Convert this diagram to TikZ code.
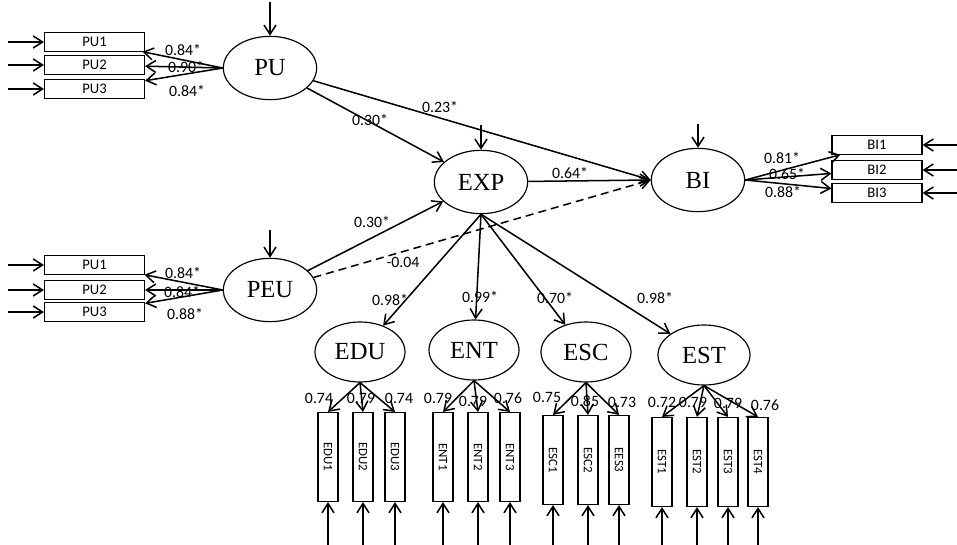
\documentclass[tikz,border=0pt]{standalone}
\usepackage{fontspec}
\setmainfont{Liberation Serif}
\newfontfamily\carlito{Carlito}
\usetikzlibrary{shapes.geometric,arrows.meta}

\tikzset{
  latent/.style={draw, ellipse, line width=1pt, minimum width=28mm, minimum height=19mm,
    inner sep=0pt, font=\fontsize{21}{23}\selectfont},
  obsh/.style={draw, rectangle, line width=1pt, minimum width=30mm, minimum height=5.5mm,
    inner sep=0pt, font=\carlito\fontsize{12.5}{13}\selectfont},
  obsv/.style={draw, rectangle, line width=1pt, minimum width=26.7mm, minimum height=6mm,
    inner sep=0pt, rotate=-90, font=\carlito\fontsize{11}{12}\selectfont},
  coef/.style={font=\carlito\fontsize{13.5}{14}\selectfont, inner sep=1pt},
  link/.style={->, line width=1.3pt},
}

\begin{document}
\begin{tikzpicture}[x=0.3mm, y=-0.3mm, >={Straight Barb[length=2.8mm,width=3.6mm]}]
        \useasboundingbox (0,0) rectangle (957,545);
        \coordinate (lft) at (8,0);
        \coordinate (rgt) at (957,0);
        \coordinate (bot) at (0,545);

        % latent variables
        \node[latent] (PU) at (270,68) {PU};
        \node[latent] (PEU) at (270,290) {PEU};
        \node[latent] (EXP) at (481,182) {EXP};
        \node[latent] (BI) at (698,180) {BI};
        \node[latent, minimum width=27mm, minimum height=18mm] (EDU) at (360,352) {EDU};
        \node[latent, minimum width=27mm, minimum height=18mm] (ENT) at (474,350) {ENT};
        \node[latent, minimum width=27mm, minimum height=18mm] (ESC) at (586,352) {ESC};
        \node[latent, minimum width=27.6mm, minimum height=18mm] (EST) at (704,355) {EST};

        % errors of the latents
        \coordinate (ePU) at (270,2);
        \coordinate (ePEU) at (270,230);
        \coordinate (eEXP) at (481,125);
        \coordinate (eBI) at (698,124);
        \draw[link] (ePU) -- (PU);
        \draw[link] (ePEU) -- (PEU);
        \draw[link] (eEXP) -- (EXP);
        \draw[link] (eBI) -- (BI);

        % PU items
        \node[obsh] (pu1) at (94.5,42) {PU1};
        \node[obsh] (pu2) at (94.5,65) {PU2};
        \node[obsh] (pu3) at (94.5,89) {PU3};
        \draw[link] (lft |- pu1) -- (pu1);
        \draw[link] (lft |- pu2) -- (pu2);
        \draw[link] (lft |- pu3) -- (pu3);
        \draw[link] (PU.west) -- (pu1);
        \draw[link] (PU.west) -- (pu2);
        \draw[link] (PU.west) -- (pu3);
        \node[coef] (lpu1) at (183,50) {0.84*};
        \node[coef] (lpu2) at (186,67) {0.90*};
        \node[coef] (lpu3) at (187,91) {0.84*};

        % PEU items
        \node[obsh] (peu1) at (94.5,265) {PU1};
        \node[obsh] (peu2) at (94.5,290) {PU2};
        \node[obsh] (peu3) at (94.5,312) {PU3};
        \draw[link] (lft |- peu1) -- (peu1);
        \draw[link] (lft |- peu2) -- (peu2);
        \draw[link] (lft |- peu3) -- (peu3);
        \draw[link] (PEU.west) -- (peu1);
        \draw[link] (PEU.west) -- (peu2);
        \draw[link] (PEU.west) -- (peu3);
        \node[coef] (lpeu1) at (183,273) {0.84*};
        \node[coef] (lpeu2) at (182,292) {0.84*};
        \node[coef] (lpeu3) at (185,314) {0.88*};

        % BI items
        \node[obsh, minimum width=27mm] (bi1) at (877,145) {BI1};
        \node[obsh, minimum width=27mm] (bi2) at (877,170) {BI2};
        \node[obsh, minimum width=27mm] (bi3) at (877,193) {BI3};
        \draw[link] (rgt |- bi1) -- (bi1);
        \draw[link] (rgt |- bi2) -- (bi2);
        \draw[link] (rgt |- bi3) -- (bi3);
        \draw[link] (BI.east) -- (bi1);
        \draw[link] (BI.east) -- (bi2);
        \draw[link] (BI.east) -- (bi3);
        \node[coef] (lbi1) at (782,158) {0.81*};
        \node[coef] (lbi2) at (787,174) {0.65*};
        \node[coef] (lbi3) at (783,192) {0.88*};

        % structural paths
        \draw[link] (PU) -- (EXP);
        \draw[link] (PU) -- (BI.west);
        \draw[link] (PEU) -- (EXP);
        \draw[link, dash pattern=on 2.4mm off 1.5mm] (PEU) -- (BI.west);
        \draw[link] (EXP) -- (BI.west);
        \node[coef] (lpuexp) at (370,120) {0.30*};
        \node[coef] (lpubi) at (440,107) {0.23*};
        \node[coef] (lpeuexp) at (372,222) {0.30*};
        \node[coef] (lpeubi) at (403,262) {-0.04};
        \node[coef] (lexpbi) at (570,173) {0.64*};

        % EXP dimensions
        \draw[link] (EXP.south) -- (EDU);
        \draw[link] (EXP.south) -- (ENT);
        \draw[link] (EXP.south) -- (ESC);
        \draw[link] (EXP.south) -- (EST);
        \node[coef] (ledu) at (390,300) {0.98*};
        \node[coef] (lent) at (480,297) {0.99*};
        \node[coef] (lesc) at (555,298) {0.70*};
        \node[coef] (lest) at (655,298) {0.98*};

        % EDU items
        \node[obsv] (edu1) at (328,457) {EDU1};
        \node[obsv] (edu2) at (363,457) {EDU2};
        \node[obsv] (edu3) at (395,457) {EDU3};
        \draw[link] (EDU.south) -- (edu1.west);
        \draw[link] (EDU.south) -- (edu2.west);
        \draw[link] (EDU.south) -- (edu3.west);
        \draw[link] (edu1.east |- bot) -- (edu1.east);
        \draw[link] (edu2.east |- bot) -- (edu2.east);
        \draw[link] (edu3.east |- bot) -- (edu3.east);
        \node[coef] (ledu1) at (319,398) {0.74};
        \node[coef] (ledu2) at (361,398) {0.79};
        \node[coef] (ledu3) at (399,398) {0.74};

        % ENT items
        \node[obsv] (ent1) at (443,457) {ENT1};
        \node[obsv] (ent2) at (478,457) {ENT2};
        \node[obsv] (ent3) at (510,457) {ENT3};
        \draw[link] (ENT.south) -- (ent1.west);
        \draw[link] (ENT.south) -- (ent2.west);
        \draw[link] (ENT.south) -- (ent3.west);
        \draw[link] (ent1.east |- bot) -- (ent1.east);
        \draw[link] (ent2.east |- bot) -- (ent2.east);
        \draw[link] (ent3.east |- bot) -- (ent3.east);
        \node[coef] (lent1) at (438,398) {0.79};
        \node[coef] (lent2) at (473,401) {0.79};
        \node[coef] (lent3) at (508,398) {0.76};

        % ESC items
        \node[obsv] (esc1) at (553,460) {ESC1};
        \node[obsv] (esc2) at (588,460) {ESC2};
        \node[obsv] (esc3) at (619,460) {EES3};
        \draw[link] (ESC.south) -- (esc1.west);
        \draw[link] (ESC.south) -- (esc2.west);
        \draw[link] (ESC.south) -- (esc3.west);
        \draw[link] (esc1.east |- bot) -- (esc1.east);
        \draw[link] (esc2.east |- bot) -- (esc2.east);
        \draw[link] (esc3.east |- bot) -- (esc3.east);
        \node[coef] (lesc1) at (547,397) {0.75};
        \node[coef] (lesc2) at (585,401) {0.85};
        \node[coef] (lesc3) at (622,402) {0.73};

        % EST items
        \node[obsv] (est1) at (662,462) {EST1};
        \node[obsv] (est2) at (697,462) {EST2};
        \node[obsv] (est3) at (728,462) {EST3};
        \node[obsv] (est4) at (758,462) {EST4};
        \draw[link] (EST.south) -- (est1.west);
        \draw[link] (EST.south) -- (est2.west);
        \draw[link] (EST.south) -- (est3.west);
        \draw[link] (EST.south) -- (est4.west);
        \draw[link] (est1.east |- bot) -- (est1.east);
        \draw[link] (est2.east |- bot) -- (est2.east);
        \draw[link] (est3.east |- bot) -- (est3.east);
        \draw[link] (est4.east |- bot) -- (est4.east);
        \node[coef] (lest1) at (662,402) {0.72};
        \node[coef] (lest2) at (693,402) {0.79};
        \node[coef] (lest3) at (728,403) {0.79};
        \node[coef] (lest4) at (765,405) {0.76};
    \end{tikzpicture}
\end{document}
